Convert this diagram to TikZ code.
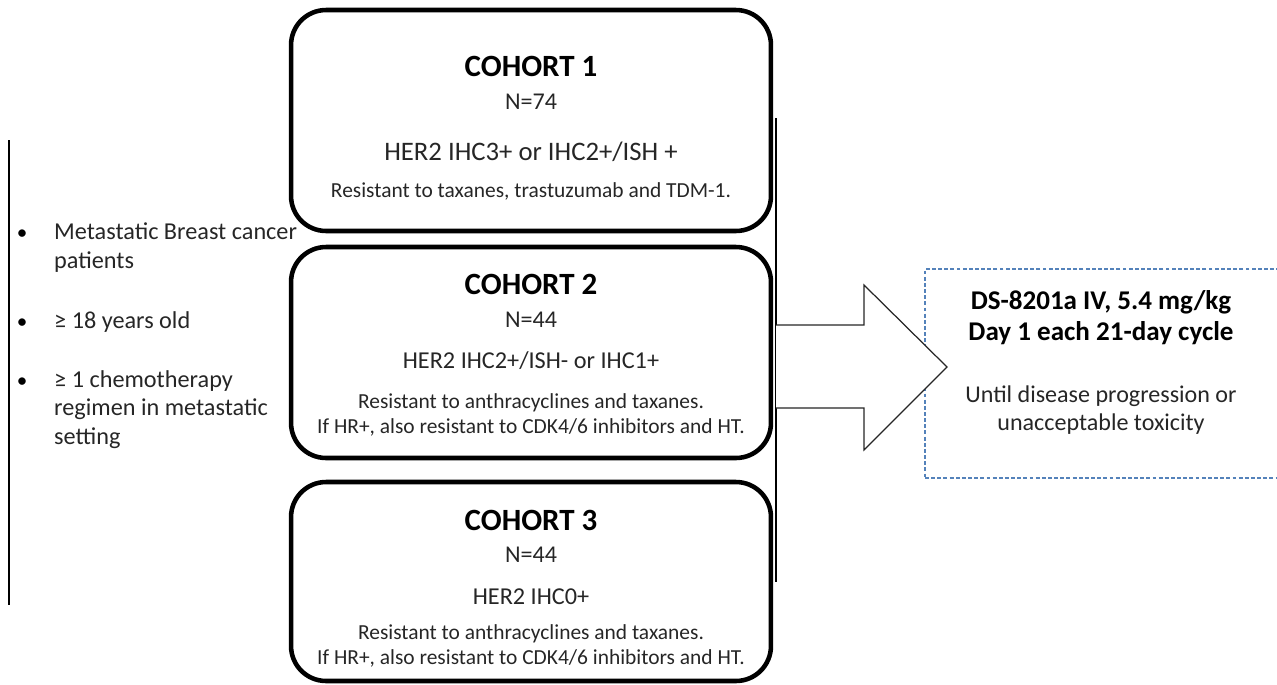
\documentclass[tikz,border=0pt]{standalone}
\usepackage{fontspec}
\setmainfont{Carlito}
\definecolor{doseblue}{RGB}{84,130,186}
\tikzset{
  cohortbox/.style={draw, line width=2.6pt, rounded corners=0.7cm, minimum width=9.6cm},
  title/.style={anchor=base, font=\bfseries\fontsize{17.6}{20}\selectfont},
  count/.style={anchor=base, text=black!85, font=\fontsize{13.7}{16}\selectfont},
  marker/.style={anchor=base, text=black!85, font=\fontsize{13.8}{16}\selectfont},
  detail/.style={anchor=base, align=center, text=black!85, font=\fontsize{12.2}{14.2}\selectfont},
  crit/.style={anchor=base west, text=black!85, font=\fontsize{13.8}{16}\selectfont},
  dot/.style={anchor=base, font=\fontsize{12}{14}\selectfont},
  rail/.style={line width=1.2pt},
  dosebox/.style={draw=doseblue, line width=0.7pt, dash pattern=on 2.2pt off 1.3pt},
  bigarrow/.style={draw=black!85, fill=white, line width=0.7pt},
}
\begin{document}
\begin{tikzpicture}[x=0.02cm, y=-0.02cm]
  \useasboundingbox (0,0) rectangle (1277,684);

  %%% inclusion criteria
  \coordinate (lefttop) at (9,140);
  \coordinate (leftbot) at (9,605);
  \draw[rail] (lefttop) -- (leftbot);

  \node[dot] (d1) at (22,239) {•};
  \node[crit] (c1a) at (48,239) {Metastatic Breast cancer};
  \node[crit] (c1b) at (48,268) {patients};
  \node[dot] (d2) at (22,328) {•};
  \node[crit] (c2a) at (48,328) {≥ 18 years old};
  \node[dot] (d3) at (22,387) {•};
  \node[crit] (c3a) at (48,387) {≥ 1 chemotherapy};
  \node[crit] (c3b) at (48,415) {regimen in metastatic};
  \node[crit] (c3c) at (48,444) {setting};

  %%% cohorts
  \node[cohortbox, minimum height=4.42cm] (box1) at (531,120.5) {};
  \node[title]  (t1) at (531,76)  {COHORT 1};
  \node[count]  (n1) at (531,109) {N=74};
  \node[marker, font=\fontsize{15.2}{18}\selectfont] (m1) at (531,160) {HER2 IHC3+ or IHC2+/ISH +};
  \node[detail] (r1) at (531,197) {Resistant to taxanes, trastuzumab and TDM-1.};

  \node[cohortbox, minimum height=4.22cm] (box2) at (531,352.5) {};
  \node[title]  (t2) at (531,294) {COHORT 2};
  \node[count]  (n2) at (531,327) {N=44};
  \node[marker] (m2) at (531,368) {HER2 IHC2+/ISH- or IHC1+};
  \node[detail] (r2) at (531,433) {Resistant to anthracyclines and taxanes.\\
    If HR+, also resistant to CDK4/6 inhibitors and HT.};

  \node[cohortbox, minimum height=3.98cm] (box3) at (531,581.5) {};
  \node[title]  (t3) at (531,530) {COHORT 3};
  \node[count]  (n3) at (531,562) {N=44};
  \node[marker] (m3) at (531,604) {HER2 IHC0+};
  \node[detail] (r3) at (531,664) {Resistant to anthracyclines and taxanes.\\
    If HR+, also resistant to CDK4/6 inhibitors and HT.};

  \coordinate (righttop) at (776,118);
  \coordinate (rightbot) at (776,582);
  \draw[rail] (righttop) -- (rightbot);

  %%% treatment
  \node[dosebox, minimum width=7.12cm, minimum height=4.18cm] (dose) at (1103,373.5) {};
  \node[title, font=\bfseries\fontsize{15.4}{18}\selectfont] (dose1) at (1101,309) {DS-8201a IV, 5.4 mg/kg};
  \node[title, font=\bfseries\fontsize{15.4}{18}\selectfont] (dose2) at (1101,340) {Day 1 each 21-day cycle};
  \node[count] (stop1) at (1101,402) {Until disease progression or};
  \node[count] (stop2) at (1101,430) {unacceptable toxicity};

  \draw[bigarrow] (776,325) -- (864,325) -- (864,285) -- (947,367)
                  -- (864,450) -- (864,408) -- (776,408);
\end{tikzpicture}
\end{document}
